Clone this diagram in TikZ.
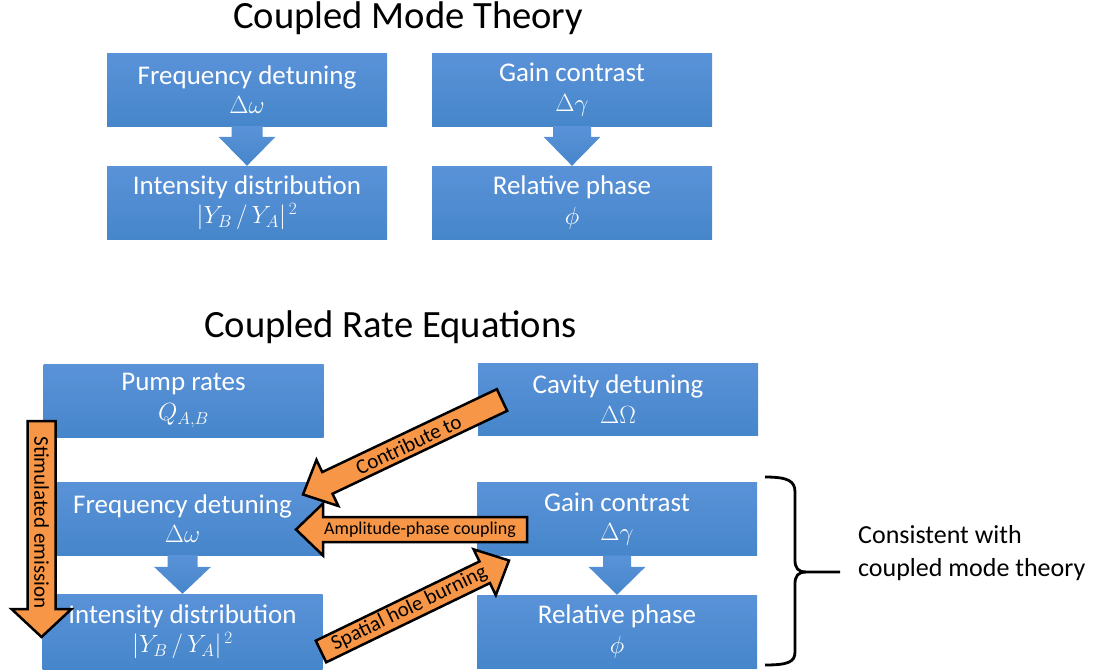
\documentclass[tikz,border=0pt]{standalone}
\usepackage{fontspec}
\setmainfont{Carlito}
\usetikzlibrary{calc}

\definecolor{boxtop}{RGB}{90,146,216}
\definecolor{boxbot}{RGB}{70,134,202}
\definecolor{orangefill}{RGB}{247,150,70}

% Block arrow from tail #1 to tip #2:
% #3 shaft half width, #4 head half width, #5 head length, #6 style
\newcommand\blockarrow[6]{%
  \coordinate (ba-h) at ($(#2)!#5!(#1)$);
  \path[#6] ($(#1)!#3!90:(#2)$) -- ($(ba-h)!#3!90:(#2)$) -- ($(ba-h)!#4!90:(#2)$)
    -- (#2) -- ($(ba-h)!#4!-90:(#2)$) -- ($(ba-h)!#3!-90:(#2)$)
    -- ($(#1)!#3!-90:(#2)$) -- cycle;
}
\newcommand\ratio{|Y_B\,/\,Y_A|^{\,2}}

\tikzset{
  box/.style={shape=rectangle, inner sep=0pt, minimum width=280pt, minimum height=73pt,
    top color=boxtop, bottom color=boxbot, text=white, align=center,
    font=\fontsize{27}{29.5}\selectfont},
  bluearrow/.style={top color=boxtop, bottom color=boxbot},
  orangearrow/.style={fill=orangefill, draw=black, line width=2.5pt, line join=miter},
  title/.style={font=\fontsize{38.6}{40}\selectfont, anchor=base west, inner sep=0pt},
  arrowtext/.style={font=\fontsize{21}{21}\selectfont, text=black, inner sep=0pt},
  bracestyle/.style={draw=black, line width=2.8pt},
}

\begin{document}
\begin{tikzpicture}[x=1pt, y=-1pt]
\useasboundingbox (0,0) rectangle (1104,672);

% ---- Coupled mode theory ----
\node[title] (t1) at (233,28) {Coupled Mode Theory};
\node[box] (fd1) at (247,89.5)  {Frequency detuning\\$\Delta\omega$};
\node[box] (id1) at (247,202.5) {Intensity distribution\\$\ratio$};
\node[box] (gc1) at (572,89.5)  {Gain contrast\\$\Delta\gamma$};
\node[box] (rp1) at (572,202.5) {Relative phase\\$\phi$};
\blockarrow{fd1.south}{id1.north}{15.5pt}{28.5pt}{29pt}{bluearrow}
\blockarrow{gc1.south}{rp1.north}{19pt}{28.5pt}{29pt}{bluearrow}

% ---- Coupled rate equations ----
\node[title] (t2) at (204,337) {Coupled Rate Equations};
\node[box] (pump) at (183.5,400.5) {Pump rates\\$Q_{A,B}$};
\node[box, minimum height=72pt] (cav) at (618,399) {Cavity detuning\\$\Delta\Omega$};
\node[box] (fd2) at (182.5,518.5) {Frequency detuning\\$\Delta\omega$};
\node[box, minimum height=75pt] (id2) at (182.5,631.5) {Intensity distribution\\$\ratio$};
\node[box] (gc2) at (617,519) {Gain contrast\\$\Delta\gamma$};
\node[box] (rp2) at (617,631.5) {Relative phase\\$\phi$};
\blockarrow{fd2.south}{id2.north}{15pt}{28.5pt}{27pt}{bluearrow}
\blockarrow{gc2.south}{rp2.north}{14pt}{28.5pt}{28pt}{bluearrow}

% stimulated emission
\coordinate (se-tail) at (41.5,421);
\coordinate (se-tip) at (41.5,637);
\blockarrow{se-tail}{se-tip}{14pt}{30pt}{28pt}{orangearrow}
\node[arrowtext, rotate=-90] (se-text) at (41.5,522.5) {Stimulated emission};

% contribute to
\coordinate (ct-tail) at (502,400);
\coordinate (ct-tip) at (303,494.5);
\blockarrow{ct-tail}{ct-tip}{12pt}{25.5pt}{27pt}{orangearrow}
\node[arrowtext, rotate=25.4] (ct-text) at ($(ct-tail)!0.47!(ct-tip)$) {Contribute to};

% spatial hole burning
\coordinate (sh-tail) at (321,651.5);
\coordinate (sh-tip) at (509,560.5);
\blockarrow{sh-tail}{sh-tip}{12pt}{25.5pt}{27pt}{orangearrow}
\node[arrowtext, rotate=25.8] (sh-text) at ($(sh-tail)!0.47!(sh-tip)$) {Spatial hole burning};

% amplitude-phase coupling
\coordinate (ap-tail) at (527,529.5);
\coordinate (ap-tip) at (296,529.5);
\blockarrow{ap-tail}{ap-tip}{12.5pt}{26pt}{27pt}{orangearrow}
\node[arrowtext, font=\fontsize{18}{18}\selectfont] (ap-text) at (420,530) {Amplitude-phase coupling};

% brace
\coordinate (br-top) at (765,477);
\coordinate (br-bot) at (765,665);
\coordinate (br-tip) at (840,572);
\draw[bracestyle] (br-top) .. controls (788,477) and (795,481) .. (795,492)
  -- (795,560) .. controls (795,568) and (798,572) .. (806,572) -- (br-tip);
\draw[bracestyle] (806,572) .. controls (798,572) and (795,576) .. (795,584)
  -- (795,652) .. controls (795,662) and (788,665) .. (br-bot);

\node[anchor=west, align=left, inner sep=0pt, font=\fontsize{26}{33}\selectfont] (note)
  at (858,553) {Consistent with\\coupled mode theory};
\end{tikzpicture}
\end{document}
